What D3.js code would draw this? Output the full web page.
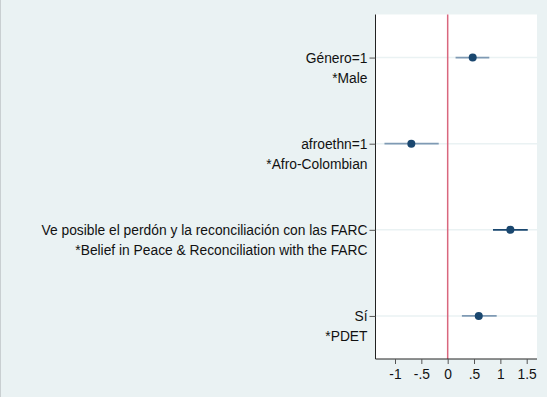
<!DOCTYPE html>
<html>
<head>
<meta charset="utf-8">
<script src="https://cdn.jsdelivr.net/npm/d3@7"></script>
<style>
  body { margin: 0; background: #eaf2f3; }
  svg { display: block; font-family: "Liberation Sans", Arial, Helvetica, sans-serif; }
</style>
</head>
<body>
<svg id="chart" width="547" height="397"></svg>
<script>
// coefficient plot values
var labels    = ["Género=1", "afroethn=1", "Ve posible el perdón y la reconciliación con las FARC", "Sí"]
var subLabels = ["*Male", "*Afro-Colombian", "*Belief in Peace & Reconciliation with the FARC", "*PDET"]
var coefs     = [0.475, -0.69, 1.19, 0.59]
var ciLow     = [0.15, -1.2, 0.86, 0.27]
var ciHigh    = [0.79, -0.17, 1.52, 0.93]
var xTicks    = [-1, -0.5, 0, 0.5, 1, 1.5]
var xTickText = ["-1", "-.5", "0", ".5", "1", "1.5"]
var ciColors  = ["#7f9ab4", "#7f9ab4", "#1a476f", "#7f9ab4"]

var svg = d3.select('#chart')
var W = 547, H = 397
var pLeft = 375.5, pRight = 537, pTop = 14.5, pBottom = 359
var fontSize = '13.8px'

svg.append('rect')
  .attr('x', 0).attr('y', 0).attr('width', W).attr('height', H)
  .style('fill', '#eaf2f3')
svg.append('line')
  .attr('x1', 0.5).attr('x2', 0.5).attr('y1', 0).attr('y2', H)
  .style('stroke', '#c9cfd1').style('stroke-width', 1)

var x = d3.scaleLinear().domain([-1, 1.5]).range([395, 526.7])
var y = d3.scaleLinear().domain([0.5, 4.5]).range([pTop, pBottom])

// plot region
svg.append('rect')
  .attr('x', pLeft).attr('y', pTop)
  .attr('width', pRight - pLeft).attr('height', pBottom - pTop)
  .style('fill', 'white')

var data = labels.map(function(d, i){
  return {label: d, sub: subLabels[i], b: coefs[i], lo: ciLow[i], hi: ciHigh[i], col: ciColors[i], pos: i + 1}
})

// grid lines
svg.selectAll('.grid')
  .data(data)
  .enter()
  .append('line')
  .attr('class', 'grid')
  .attr('x1', pLeft).attr('x2', pRight)
  .attr('y1', function(d){ return y(d.pos) })
  .attr('y2', function(d){ return y(d.pos) })
  .style('stroke', '#eaf2f3')
  .style('stroke-width', 1.5)

// reference line at zero
svg.append('line')
  .attr('x1', x(0)).attr('x2', x(0))
  .attr('y1', pTop).attr('y2', pBottom)
  .style('stroke', '#d9677e')
  .style('stroke-width', 1.5)

// confidence intervals
svg.selectAll('.ci')
  .data(data)
  .enter()
  .append('line')
  .attr('class', 'ci')
  .attr('x1', function(d){ return x(d.lo) })
  .attr('x2', function(d){ return x(d.hi) })
  .attr('y1', function(d){ return y(d.pos) })
  .attr('y2', function(d){ return y(d.pos) })
  .style('stroke', function(d){ return d.col })
  .style('stroke-width', 1.8)

// point estimates
svg.selectAll('.pt')
  .data(data)
  .enter()
  .append('circle')
  .attr('class', 'pt')
  .attr('cx', function(d){ return x(d.b) })
  .attr('cy', function(d){ return y(d.pos) })
  .attr('r', 4)
  .style('fill', '#1a476f')

// y axis
var yAxis = d3.axisLeft(y)
  .tickValues(data.map(function(d){ return d.pos }))
  .tickSize(6)
  .tickFormat(function(p){ return labels[p - 1] })
var gy = svg.append('g')
  .attr('transform', 'translate(' + pLeft + ',0)')
  .call(yAxis)
gy.select('.domain').attr('d', 'M0,' + pTop + 'V' + pBottom).style('stroke', '#222')
gy.selectAll('.tick line').style('stroke', '#555')
gy.selectAll('.tick text')
  .attr('x', -8)
  .attr('dy', '0.36em')
  .style('font-size', fontSize)
  .style('fill', '#111')
  .style('font-family', '"Liberation Sans", Arial, sans-serif')

svg.selectAll('.sublabel')
  .data(data)
  .enter()
  .append('text')
  .attr('class', 'sublabel')
  .attr('x', pLeft - 8)
  .attr('y', function(d){ return y(d.pos) + 25 })
  .attr('text-anchor', 'end')
  .style('font-size', fontSize)
  .style('fill', '#111')
  .text(function(d){ return d.sub })

// x axis
var xAxis = d3.axisBottom(x)
  .tickValues(xTicks)
  .tickSize(5)
  .tickFormat(function(v, i){ return xTickText[i] })
var gx = svg.append('g')
  .attr('transform', 'translate(0,' + pBottom + ')')
  .call(xAxis)
gx.select('.domain').attr('d', 'M' + pLeft + ',0H' + pRight).style('stroke', '#222')
gx.selectAll('.tick line').style('stroke', '#555')
gx.selectAll('.tick text')
  .attr('y', 10)
  .style('font-size', fontSize)
  .style('fill', '#111')
  .style('font-family', '"Liberation Sans", Arial, sans-serif')
</script>
</body>
</html>
